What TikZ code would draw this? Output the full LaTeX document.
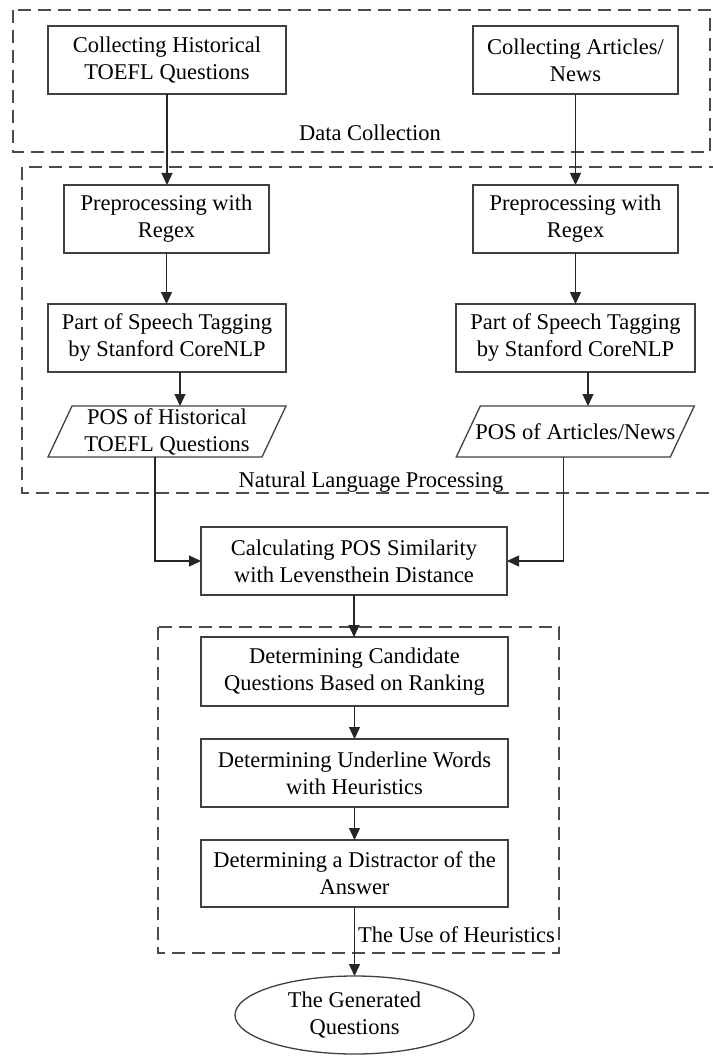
\documentclass[tikz,border=0pt]{standalone}
\usepackage{fontspec}
\setmainfont{Liberation Serif}
\usetikzlibrary{arrows.meta,shapes.geometric}
\begin{document}
\begin{tikzpicture}[x=1pt,y=-1pt,
  every node/.style={font=\fontsize{22.5}{27}\selectfont, inner sep=0pt, outer sep=0pt, text=black},
  proc/.style={draw=black!75, line width=1.3pt, minimum height=68pt, align=center},
  para/.style={minimum height=51pt, align=center},
  grp/.style={draw=black!70, line width=1.8pt, dash pattern=on 13pt off 7pt},
  arr/.style={draw=black!85, line width=1.3pt, -{Triangle[length=12pt,width=11pt]}},
  pline/.style={draw=black!75, line width=1.3pt},
]
\useasboundingbox (0,0) rectangle (712,1056);
% group frames
\draw[grp] (13,10) rectangle (710,152);
\draw[grp] (22,167) rectangle (716,493);
\draw[grp] (158,627) rectangle (559,953);
\node (lDC) at (370,133) {Data Collection};
\node (lNLP) at (371,482) {Natural Language Processing};
\node (lH) at (456.5,935) {The Use of Heuristics};
% boxes
\node[proc, minimum width=238pt] (c1) at (167,60) {Collecting Historical\\TOEFL Questions};
\node[proc, minimum width=205pt] (c2) at (575.5,60) {Collecting Articles/\\News};
\node[proc, minimum width=205pt] (p1) at (166.5,219) {Preprocessing with\\Regex};
\node[proc, minimum width=205pt] (p2) at (575.5,219) {Preprocessing with\\Regex};
\node[proc, minimum width=238pt] (t1) at (167,338) {Part of Speech Tagging\\by Stanford CoreNLP};
\node[proc, minimum width=239pt] (t2) at (575.5,338) {Part of Speech Tagging\\by Stanford CoreNLP};
\node[para, minimum width=214pt] (s1) at (167,431.5) {POS of Historical\\TOEFL Questions};
\node[para, minimum width=214pt] (s2) at (575.3,431.5) {POS of Articles/News};
\draw[pline] ([xshift=12pt]s1.north west) -- ([xshift=12pt]s1.north east) -- ([xshift=-12pt]s1.south east) -- ([xshift=-12pt]s1.south west) -- cycle;
\draw[pline] ([xshift=12pt]s2.north west) -- ([xshift=12pt]s2.north east) -- ([xshift=-12pt]s2.south east) -- ([xshift=-12pt]s2.south west) -- cycle;
\node[proc, minimum width=306pt] (calc) at (354,561) {Calculating POS Similarity\\with Levensthein Distance};
\node[proc, minimum width=307pt, minimum height=69pt] (d1) at (354.5,671.5) {Determining Candidate\\Questions Based on Ranking};
\node[proc, minimum width=307pt] (d2) at (354.5,773) {Determining Underline Words\\with Heuristics};
\node[proc, minimum width=307pt, minimum height=67pt] (d3) at (354.5,873.5) {Determining a Distractor of the\\Answer};
\node[ellipse, draw=black!75, line width=1.3pt, minimum width=239pt, minimum height=78pt, align=center] (gen) at (354.5,1015) {The Generated\\Questions};
% connectors
\draw[arr] (c1.south) -- (p1.north -| c1.south);
\draw[arr] (c2.south) -- (p2.north -| c2.south);
\draw[arr] (p1.south) -- (t1.north -| p1.south);
\draw[arr] (p2.south) -- (t2.north -| p2.south);
\draw[arr] ([xshift=13pt]t1.south) -- ([xshift=13pt]t1.south |- s1.north);
\draw[arr] ([xshift=12.5pt]t2.south) -- ([xshift=12.5pt]t2.south |- s2.north);
\draw[arr] ([xshift=-12pt]s1.south) |- (calc.west);
\draw[arr] ([xshift=-12pt]s2.south) |- (calc.east);
\draw[arr] (calc.south) -- (d1.north -| calc.south);
\draw[arr] (d1.south) -- (d2.north);
\draw[arr] (d2.south) -- (d3.north);
\draw[arr] (d3.south) -- (gen.north);
\end{tikzpicture}
\end{document}
